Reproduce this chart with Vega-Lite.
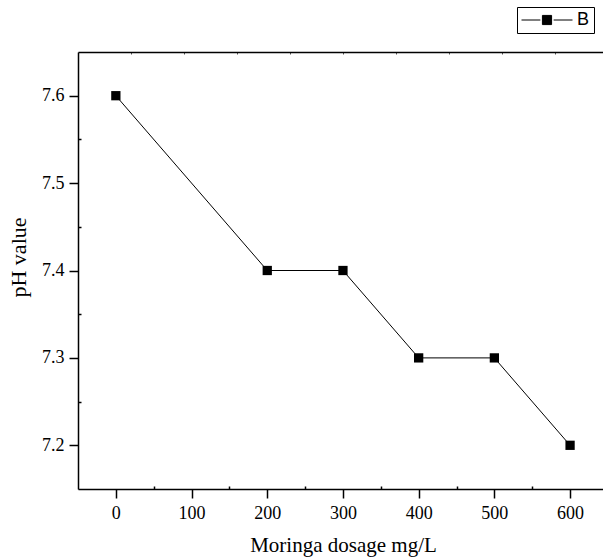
{
  "$schema": "https://vega.github.io/schema/vega-lite/v6.json",
  "width": 525,
  "height": 437,
  "autosize": "none",
  "padding": {"left": 78, "top": 52, "right": 0, "bottom": 68},
  "background": "white",
  "config": {
    "view": {"stroke": null},
    "axis": {
      "grid": false,
      "domainColor": "black",
      "domainWidth": 1.5,
      "tickColor": "black",
      "tickWidth": 1.5,
      "labelColor": "black",
      "titleColor": "black",
      "labelFont": "Liberation Serif",
      "titleFont": "Liberation Serif",
      "titleFontWeight": "normal",
      "labelFontSize": 18,
      "titleFontSize": 21
    }
  },
  "data": {
    "values": [
      {"dosage": 0, "pH": 7.6, "series": "B"},
      {"dosage": 200, "pH": 7.4, "series": "B"},
      {"dosage": 300, "pH": 7.4, "series": "B"},
      {"dosage": 400, "pH": 7.3, "series": "B"},
      {"dosage": 500, "pH": 7.3, "series": "B"},
      {"dosage": 600, "pH": 7.2, "series": "B"}
    ]
  },
  "layer": [
    {
      "mark": {"type": "line", "color": "black", "strokeWidth": 1},
      "encoding": {
        "x": {
          "field": "dosage",
          "type": "quantitative",
          "scale": {"domain": [-50, 643.5], "nice": false, "zero": false},
          "axis": {
            "orient": "bottom",
            "values": [0, 50, 100, 150, 200, 250, 300, 350, 400, 450, 500, 550, 600],
            "labelExpr": "datum.value % 100 == 0 ? datum.label : ''",
            "tickSize": {"condition": {"test": "datum.value % 100 == 0", "value": 9}, "value": -3},
            "labelPadding": 6,
            "title": "Moringa dosage mg/L",
            "titleX": 265,
            "titleY": 62,
            "titleBaseline": "alphabetic",
            "titleAlign": "center"
          }
        },
        "y": {
          "field": "pH",
          "type": "quantitative",
          "scale": {"domain": [7.15, 7.65], "nice": false, "zero": false},
          "axis": {
            "orient": "left",
            "values": [7.2, 7.25, 7.3, 7.35, 7.4, 7.45, 7.5, 7.55, 7.6],
            "labelExpr": "abs(datum.value * 10 - round(datum.value * 10)) < 0.001 ? format(datum.value, '.1f') : ''",
            "tickSize": {"condition": {"test": "abs(datum.value * 10 - round(datum.value * 10)) < 0.001", "value": 9}, "value": -3},
            "labelPadding": 5,
            "title": "pH value",
            "titleFontSize": 22,
            "titleX": -52.5,
            "titleY": 205,
            "titleBaseline": "alphabetic",
            "titleAlign": "center",
            "titleAngle": -90
          }
        }
      }
    },
    {
      "mark": {"type": "point", "shape": "square", "filled": true, "size": 86, "opacity": 1},
      "encoding": {
        "x": {
          "field": "dosage",
          "type": "quantitative",
          "axis": {
            "orient": "top",
            "values": [20, 90, 160, 230, 300, 370, 440, 510, 580],
            "labels": false,
            "title": null,
            "tickSize": -2,
            "tickWidth": 1,
            "tickColor": "#555555"
          }
        },
        "y": {"field": "pH", "type": "quantitative"},
        "color": {
          "field": "series",
          "type": "nominal",
          "scale": {"range": ["black"]},
          "legend": {
            "orient": "none",
            "legendX": 439,
            "legendY": -45,
            "title": null,
            "strokeColor": "black",
            "padding": 4,
            "labelFont": "Liberation Sans",
            "labelFontSize": 18,
            "labelColor": "black",
            "labelOffset": 4,
            "clipHeight": 18,
            "symbolType": "M-1,0L-0.26,0M0.26,0L1,0M-0.18,-0.18L0.18,-0.18L0.18,0.18L-0.18,0.18Z",
            "symbolSize": 2601,
            "symbolStrokeColor": "black",
            "symbolStrokeWidth": 1,
            "symbolFillColor": "black",
            "symbolOpacity": 1,
            "encode": {
              "symbols": {
                "update": {
                  "stroke": {"value": "black"},
                  "strokeWidth": {"value": 1},
                  "fill": {"value": "black"},
                  "opacity": {"value": 1}
                }
              }
            }
          }
        }
      }
    }
  ]
}
